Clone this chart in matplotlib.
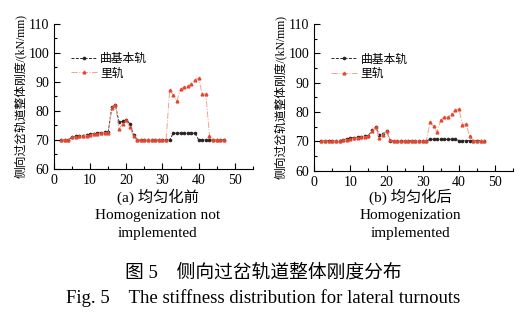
import matplotlib
matplotlib.use('Agg')
import matplotlib.pyplot as plt
from matplotlib.ticker import MultipleLocator

plt.rcParams['font.family'] = ['Liberation Serif', 'Noto Sans CJK SC']
plt.rcParams['axes.unicode_minus'] = False

# positions along the turnout
x = list(range(2, 48))

# (a) before homogenization
base_a = [70, 70, 70, 71.0, 71.2, 71.4, 71.5, 71.7, 71.9, 72.1, 72.3, 72.5, 72.6, 72.7,
          81.3, 81.9, 76.0, 76.4, 76.9, 75.5, 71.7, 70,
          70, 70, 70, 70, 70, 70, 70, 70, 70,
          72.3, 72.3, 72.3, 72.3, 72.3, 72.3, 72.3,
          70, 70, 70, 70, 70, 70, 70, 70]
inner_a = [70, 70, 70, 70.9, 71.0, 71.2, 71.3, 71.5, 71.6, 71.9, 72.0, 72.2, 72.4, 72.5,
           81.0, 82.0, 73.8, 75.5, 76.7, 74.3, 71.2, 70,
           70, 70, 70, 70, 70, 70, 70, 70,
           87.1, 85.4, 83.4, 87.6, 88.2, 88.4, 89.4, 90.8, 91.2, 85.7, 85.8, 71.4,
           70, 70, 70, 70]

# (b) after homogenization
base_b = [70.3, 70.3, 70.3, 70.3, 70.3, 70.3, 70.6, 70.8, 71.1, 71.3, 71.4, 71.6, 71.8, 72.0,
          73.8, 74.8, 72.3, 72.5, 73.6, 70.3,
          70.2, 70.2, 70.2, 70.2, 70.2, 70.2, 70.2, 70.2, 70.2, 70.2,
          70.7, 70.7, 70.7, 70.7, 70.7, 70.7, 70.7, 70.7,
          70.3, 70.3, 70.3, 70.3, 70.3, 70.3, 70.3, 70.3]
inner_b = [70.2, 70.2, 70.2, 70.2, 70.2, 70.2, 70.4, 70.6, 70.8, 71.0, 71.2, 71.4, 71.6, 71.8,
           73.5, 74.8, 71.2, 72.3, 73.6, 70.5,
           70.2, 70.2, 70.2, 70.2, 70.2, 70.2, 70.2, 70.2, 70.2, 70.2,
           76.6, 75.1, 73.2, 77.4, 78.2, 78.3, 79.3, 80.7, 81.1, 75.7, 75.9, 71.7,
           70.3, 70.3, 70.3, 70.3]

fig = plt.figure(figsize=(5.29, 3.26), dpi=100)
ax_a = fig.add_axes([0.102, 0.482, 0.376, 0.445])
ax_b = fig.add_axes([0.594, 0.476, 0.376, 0.451])

ylabel = '侧向过岔轨道整体刚度/(kN/mm)'

for ax, base, inner in [(ax_a, base_a, inner_a), (ax_b, base_b, inner_b)]:
    ax.plot(x, base, color='#2e2424', lw=0.7, ls='--', marker='o', ms=1.6,
            mfc='#2e2424', mec='#2e2424', dashes=(3, 1.5), label='曲基本轨')
    ax.plot(x, inner, color='#f3a292', lw=0.7, ls='-.', marker='^', ms=2.0,
            mfc='#e8462e', mec='#e8462e', label='里轨')
    ax.set_xlim(0, 55)
    ax.set_ylim(60, 110)
    ax.xaxis.set_major_locator(MultipleLocator(10))
    ax.xaxis.set_minor_locator(MultipleLocator(5))
    ax.yaxis.set_major_locator(MultipleLocator(10))
    ax.yaxis.set_minor_locator(MultipleLocator(5))
    ax.tick_params(which='both', direction='in', labelsize=10, width=0.8)
    ax.tick_params(which='major', length=4)
    ax.tick_params(which='minor', length=2.5)
    ax.spines['top'].set_visible(False)
    ax.spines['right'].set_visible(False)
    ax.set_ylabel(ylabel, fontsize=8.5, labelpad=1)
    ax.legend(loc='upper left', bbox_to_anchor=(0.06, 0.83), frameon=False,
              fontsize=8.5, handlelength=2.2, handletextpad=0.3,
              labelspacing=0.2, borderaxespad=0)

fig.text(0.298, 0.395, '(a) 均匀化前', ha='center', va='center', fontsize=11)
fig.text(0.298, 0.34, 'Homogenization not', ha='center', va='center', fontsize=11)
fig.text(0.298, 0.285, 'implemented', ha='center', va='center', fontsize=11)
fig.text(0.775, 0.395, '(b) 均匀化后', ha='center', va='center', fontsize=11)
fig.text(0.775, 0.34, 'Homogenization', ha='center', va='center', fontsize=11)
fig.text(0.775, 0.285, 'implemented', ha='center', va='center', fontsize=11)

fig.text(0.497, 0.163, '图 5\u2003侧向过岔轨道整体刚度分布', ha='center', va='center', fontsize=13.5)
fig.text(0.497, 0.085, 'Fig. 5\u2003The stiffness distribution for lateral turnouts',
         ha='center', va='center', fontsize=13.5)

fig.savefig('out.png', dpi=100)
